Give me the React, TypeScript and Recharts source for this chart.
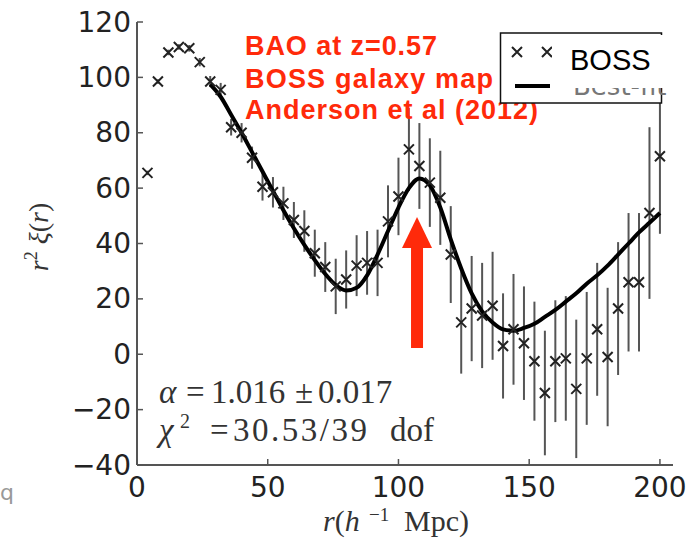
import React from "react";
import {
  ComposedChart,
  Scatter,
  Line,
  XAxis,
  YAxis,
  ErrorBar,
  ReferenceLine,
  ReferenceDot,
} from "recharts";

// separation bins (h^-1 Mpc) and measured r^2 xi(r) with 1-sigma errors
const SEP = [
  4, 8, 12, 16, 20, 24, 28, 32, 36, 40, 44, 48, 52, 56, 60, 64, 68, 72, 76, 80,
  84, 88, 92, 96, 100, 104, 108, 112, 116, 120, 124, 128, 132, 136, 140, 144,
  148, 152, 156, 160, 164, 168, 172, 176, 180, 184, 188, 192, 196, 200,
];
const XI = [
  65.5, 98.5, 109, 111, 110.5, 105.5, 98.5, 95.5, 82, 80, 71, 60.5, 58.5, 54.5,
  48.5, 44.5, 36.5, 31.5, 24.5, 27, 32, 33, 33, 48, 57, 74, 68, 62, 56.5, 36,
  11.5, 16.5, 14, 17.5, 3, 9, 4, -2.5, -14, -2.5, -1.5, -12.5, -1.5, 9, -1,
  16.5, 26, 26, 51, 71.5,
];
const ERR = [
  0.8, 0.8, 1, 1, 1.2, 1.5, 2, 2.5, 3, 3.5, 4, 5, 5.5, 6, 6.5, 7.5, 8.5, 9, 10,
  10.5, 11, 11.5, 12, 13, 14, 15, 15.5, 16, 17, 17.5, 18.5, 19, 19, 19.5, 19,
  20, 20.5, 21.5, 22.5, 22, 22.5, 25, 24, 24, 25, 24, 25, 25, 31, 28,
];

// best-fit model curve
const FIT_R = [
  28, 32, 36, 40, 44, 48, 52, 56, 60, 64, 68, 72, 76, 80, 84, 88, 92, 96, 100,
  104, 108, 112, 116, 120, 124, 128, 132, 136, 140, 144, 148, 152, 156, 160,
  164, 168, 172, 176, 180, 184, 188, 192, 196, 200,
];
const FIT_V = [
  97.5, 93, 86.5, 80, 73, 66, 59, 52, 45.5, 39.5, 34, 29, 25, 23, 24, 28.5, 36,
  44.5, 53, 60, 63.5, 61, 53, 41.5, 31, 22, 15.5, 11.5, 9, 8.5, 9.5, 11, 13.5,
  16, 19, 22, 25.5, 28.5, 32, 36, 40, 44, 47.5, 51,
];

const X_TICKS = [0, 50, 100, 150, 200];
const Y_TICKS = [-40, -20, 0, 20, 40, 60, 80, 100, 120];

const ARROW_R = 107.1;
const ARROW_BASE = 2.3;
const ARROW_NECK = 38.7;

const RED = "#ff2a0a";
const AXIS = "#555";
const SANS = "'DejaVu Sans', sans-serif";
const SERIF = "'Liberation Serif', serif";

const points = SEP.map((r, i) => ({ r, v: XI[i], err: ERR[i] }));
const fit = FIT_R.map((r, i) => ({ r, v: FIT_V[i] }));

const fmt = (v: number) => (v < 0 ? `\u2212${Math.abs(v)}` : `${v}`);

const Cross = (props: any) => {
  const { cx, cy } = props;
  if (cx == null || cy == null) return null;
  const s = 5;
  return (
    <path
      d={`M${cx - s},${cy - s}L${cx + s},${cy + s}M${cx - s},${cy + s}L${cx + s},${cy - s}`}
      stroke="#222"
      strokeWidth={2}
      fill="none"
    />
  );
};

const LeftTick = ({ x, y, payload }: any) => (
  <g>
    <line x1={x + 6} y1={y} x2={x + 12} y2={y} stroke={AXIS} strokeWidth={1.5} />
    <text x={x} y={y} textAnchor="end" dominantBaseline="central" fontSize={28} fill="#222" fontFamily={SANS}>
      {fmt(payload.value)}
    </text>
  </g>
);

const BottomTick = ({ x, y, payload }: any) => (
  <g>
    <line x1={x} y1={y - 8} x2={x} y2={y - 14} stroke={AXIS} strokeWidth={1.5} />
    <text x={x} y={y + 24} textAnchor="middle" fontSize={28} fill="#222" fontFamily={SANS}>
      {payload.value}
    </text>
  </g>
);

const RightTick = ({ x, y }: any) => (
  <line x1={x - 6} y1={y} x2={x} y2={y} stroke={AXIS} strokeWidth={1.5} />
);

const TopTick = ({ x, y }: any) => (
  <line x1={x} y1={y} x2={x} y2={y + 6} stroke={AXIS} strokeWidth={1.5} />
);

const ArrowHead = (props: any) => {
  const { cx, cy } = props;
  if (cx == null || cy == null) return null;
  return <path d={`M${cx - 15},${cy + 1}L${cx + 15},${cy + 1}L${cx},${cy - 30}Z`} fill={RED} />;
};

export default function App() {
  return (
    <div style={{ position: "absolute", left: 0, top: 0, width: 698, height: 542, background: "#fff" }}>
      <ComposedChart width={698} height={542} margin={{ top: 22, right: 25, bottom: 37, left: 77 }}>
        <XAxis
          dataKey="r"
          type="number"
          domain={[0, 205]}
          ticks={X_TICKS}
          allowDataOverflow
          height={40}
          tickSize={0}
          tickMargin={8}
          tickLine={false}
          axisLine={{ stroke: AXIS, strokeWidth: 2 }}
          tick={<BottomTick />}
        />
        <XAxis
          xAxisId="top"
          orientation="top"
          type="number"
          domain={[0, 205]}
          ticks={X_TICKS}
          allowDataOverflow
          height={0}
          tickSize={0}
          tickMargin={0}
          tickLine={false}
          axisLine={{ stroke: AXIS, strokeWidth: 2 }}
          tick={<TopTick />}
        />
        <YAxis
          type="number"
          domain={[-40, 120]}
          ticks={Y_TICKS}
          allowDataOverflow
          width={60}
          tickSize={0}
          tickMargin={6}
          tickLine={false}
          axisLine={{ stroke: AXIS, strokeWidth: 2 }}
          tick={<LeftTick />}
        />
        <YAxis
          yAxisId="right"
          orientation="right"
          type="number"
          domain={[-40, 120]}
          ticks={Y_TICKS}
          allowDataOverflow
          width={0}
          tickSize={0}
          tickMargin={0}
          tickLine={false}
          axisLine={{ stroke: AXIS, strokeWidth: 2 }}
          tick={<RightTick />}
        />
        <Scatter data={points} dataKey="v" shape={<Cross />} isAnimationActive={false}>
          <ErrorBar dataKey="err" direction="y" width={0} stroke="#555" strokeWidth={2} isAnimationActive={false} />
        </Scatter>
        <Line
          data={fit}
          dataKey="v"
          type="monotone"
          stroke="#000"
          strokeWidth={4}
          dot={false}
          activeDot={false}
          isAnimationActive={false}
        />
        <ReferenceLine
          segment={[
            { x: ARROW_R, y: ARROW_BASE },
            { x: ARROW_R, y: ARROW_NECK },
          ]}
          stroke={RED}
          strokeWidth={12}
        />
        <ReferenceDot x={ARROW_R} y={ARROW_NECK} shape={<ArrowHead />} />
      </ComposedChart>

      <svg
        width={698}
        height={542}
        style={{ position: "absolute", left: 0, top: 0, pointerEvents: "none" }}
      >
        {/* annotation */}
        <g fontFamily="'Liberation Sans', Arial, sans-serif" fontWeight="bold" fontSize={27} fill={RED}>
          <text x={245} y={55} textLength={192} lengthAdjust="spacing">BAO at z=0.57</text>
          <text x={245} y={88} textLength={248} lengthAdjust="spacing">BOSS galaxy map</text>
          <text x={245} y={119} textLength={293} lengthAdjust="spacing">Anderson et al (2012)</text>
        </g>

        {/* legend */}
        <rect x={500.5} y={33} width={161} height={70} fill="#fff" stroke="#111" strokeWidth={1.5} />
        <Cross cx={517} cy={52} />
        <Cross cx={547} cy={52} />
        <line x1={515} y1={86} x2={550} y2={86} stroke="#000" strokeWidth={4} />
        <text x={573} y={95} fontFamily={SANS} fontSize={26} fill="#777">Best-fit</text>
        <rect x={552} y={35} width={115} height={53} fill="#fff" />
        <text x={570} y={70} fontFamily="'Liberation Sans', Arial, sans-serif" fontSize={29} fill="#000">BOSS</text>

        {/* fit results */}
        <g fontFamily={SERIF} fontSize={33} fill="#333">
          <text x={159} y={403} fontStyle="italic">α</text>
          <text x={186} y={403}>=</text>
          <text x={211} y={403}>1.016</text>
          <text x={295} y={403}>±</text>
          <text x={318} y={403}>0.017</text>
          <text x={159} y={441} fontStyle="italic">χ</text>
          <text x={180} y={428} fontSize={20}>2</text>
          <text x={210} y={441}>=</text>
          <text x={233} y={441} textLength={134} lengthAdjust="spacing">30.53/39</text>
          <text x={390} y={441}>dof</text>
        </g>

        {/* axis titles */}
        <text
          transform="translate(48,237) rotate(-90)"
          textAnchor="middle"
          fontFamily={SERIF}
          fontSize={28}
          fill="#333"
        >
          <tspan fontStyle="italic">r</tspan>
          <tspan dy={-11} fontSize={18}>2</tspan>
          <tspan dy={11} fontStyle="italic"> ξ</tspan>
          <tspan>(</tspan>
          <tspan fontStyle="italic">r</tspan>
          <tspan>)</tspan>
        </text>
        <g fontFamily={SERIF} fontSize={30} fill="#333">
          <text x={323} y={531}>
            <tspan fontStyle="italic">r</tspan>
            <tspan>(</tspan>
            <tspan fontStyle="italic">h</tspan>
          </text>
          <text x={369} y={521} fontSize={19}>−1</text>
          <text x={404} y={531}>Mpc)</text>
        </g>

        <text x={0} y={500} fontFamily={SANS} fontSize={22} fill="#999">q</text>
      </svg>
    </div>
  );
}
